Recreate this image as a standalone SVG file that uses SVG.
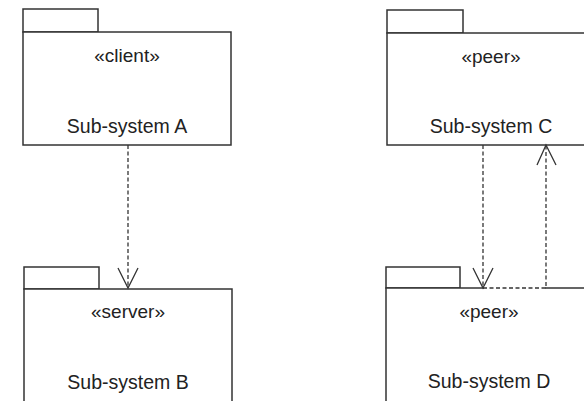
<svg xmlns="http://www.w3.org/2000/svg" width="584" height="401" viewBox="0 0 584 401">
  <defs>
    <style>
      .pkg { fill: #ffffff; stroke: #333333; stroke-width: 1.5; }
      .stereo { font-family: "Liberation Sans", Arial, sans-serif; font-size: 19px; fill: #222; text-anchor: middle; }
      .name { font-family: "Liberation Sans", Arial, sans-serif; font-size: 19.5px; fill: #222; text-anchor: middle; }
      .dep { fill: none; stroke: #333; stroke-width: 1.3; stroke-dasharray: 4 2.5; }
      .head { fill: none; stroke: #333; stroke-width: 1.3; }
    </style>
  </defs>
  <rect width="584" height="401" fill="#ffffff"/>

  <g id="pkgA">
    <rect class="pkg" x="23" y="9" width="75" height="23"/>
    <rect class="pkg" x="23" y="32" width="208" height="113"/>
    <text class="stereo" x="127" y="62">«client»</text>
    <text class="name" x="127" y="133">Sub-system A</text>
  </g>

  <g id="pkgB">
    <rect class="pkg" x="24" y="267" width="75" height="22"/>
    <rect class="pkg" x="24" y="289" width="208" height="116"/>
    <text class="stereo" x="128" y="318">«server»</text>
    <text class="name" x="128" y="389">Sub-system B</text>
  </g>

  <g id="pkgC">
    <rect class="pkg" x="387" y="10" width="76" height="23"/>
    <rect class="pkg" x="387" y="33" width="208" height="112"/>
    <text class="stereo" x="491" y="63">«peer»</text>
    <text class="name" x="491" y="133">Sub-system C</text>
  </g>

  <g id="pkgD">
    <rect class="pkg" x="386" y="267" width="74" height="21"/>
    <rect class="pkg" x="386" y="288" width="208" height="117"/>
    <text class="stereo" x="489" y="318">«peer»</text>
    <text class="name" x="489" y="388">Sub-system D</text>
  </g>

  <g id="connectors">
    <!-- A depends on B -->
    <path class="dep" d="M128,145 V288"/>
    <path class="head" d="M118,268 L128,288 L138,268"/>
    <!-- C depends on D -->
    <path class="dep" d="M483,145 V288"/>
    <path class="head" d="M473,268 L483,288 L493,268"/>
    <!-- D depends on C: runs along D's top edge, then up -->
    <path d="M484,288 H545" stroke="#ffffff" stroke-width="2.6" fill="none"/>
    <path class="dep" d="M483,288 H546 V146"/>
    <path class="head" d="M537,165 L546,145 L556,165"/>
  </g>
</svg>
